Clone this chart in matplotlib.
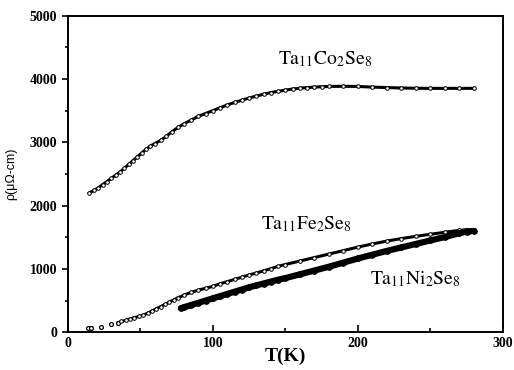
import matplotlib
matplotlib.use("Agg")
import matplotlib.pyplot as plt
from matplotlib.ticker import MultipleLocator

plt.rcParams['mathtext.fontset'] = 'stix'

co_T = [15, 18, 21, 24, 27, 30, 33, 36, 39, 42, 45, 48, 51, 54, 57, 60, 64, 68, 72, 76,
        80, 85, 90, 95, 100, 105, 110, 115, 120, 125, 130, 135, 140, 145, 150, 155, 160,
        165, 170, 175, 180, 190, 200, 210, 220, 230, 240, 250, 260, 270, 280]
co_rho = [2200, 2240, 2280, 2330, 2380, 2430, 2480, 2530, 2590, 2650, 2710, 2770, 2830,
          2890, 2940, 2980, 3030, 3095, 3170, 3235, 3290, 3350, 3410, 3455, 3500, 3545,
          3590, 3630, 3665, 3700, 3730, 3760, 3785, 3805, 3825, 3842, 3855, 3865, 3872,
          3878, 3882, 3885, 3882, 3872, 3865, 3858, 3854, 3852, 3852, 3852, 3852]

fe_T = [14, 16, 23, 30, 35, 37, 40, 43, 46, 49, 52, 55, 58, 61, 64, 67, 70, 73, 76, 80,
        85, 90, 95, 100, 105, 110, 115, 120, 125, 130, 135, 140, 145, 150, 160, 170, 180,
        190, 200, 210, 220, 230, 240, 250, 260, 270, 276, 280]
fe_rho = [60, 65, 85, 125, 150, 170, 190, 210, 230, 250, 270, 300, 335, 370, 405, 440,
          475, 510, 545, 585, 630, 665, 695, 725, 765, 800, 835, 870, 905, 935, 970, 1005,
          1040, 1070, 1125, 1180, 1235, 1290, 1345, 1395, 1440, 1480, 1515, 1548, 1580,
          1610, 1620, 1605]

ni_T = [78, 80, 85, 90, 95, 100, 105, 110, 115, 120, 125, 130, 135, 140, 145, 150, 160,
        170, 180, 190, 200, 210, 220, 230, 240, 250, 260, 270, 275, 280]
ni_rho = [380, 395, 430, 465, 500, 535, 570, 605, 640, 675, 710, 740, 770, 800, 830, 855,
          915, 975, 1035, 1100, 1165, 1225, 1285, 1340, 1395, 1450, 1505, 1565, 1590, 1600]

labels = [r'$\mathrm{Ta_{11}Co_{2}Se_{8}}$', r'$\mathrm{Ta_{11}Fe_{2}Se_{8}}$',
          r'$\mathrm{Ta_{11}Ni_{2}Se_{8}}$']
label_pos = [(145, 4230), (133, 1620), (208, 750)]

fig = plt.figure(figsize=(5.14, 3.70), dpi=100)
ax = fig.add_axes([0.1317, 0.1020, 0.8469, 0.8556])

ax.plot(co_T, co_rho, color='black', lw=2.2, marker='o', ms=2.6, mfc='white', mec='black', mew=0.7)
ax.plot(fe_T[:5], fe_rho[:5], ls='none', marker='o', ms=2.8, mfc='white', mec='black', mew=0.9)
ax.plot(fe_T[4:], fe_rho[4:], color='black', lw=2.2, marker='o', ms=2.6, mfc='white', mec='black', mew=0.7)
ax.plot(ni_T, ni_rho, color='black', lw=4.5, marker='o', ms=4, mfc='black', mec='black', mew=0.8,
        solid_capstyle='round')

for lab, (x, y) in zip(labels, label_pos):
    ax.text(x, y, lab, fontsize=14, color='black', ha='left', va='baseline')

ax.set_xlim(0, 300)
ax.set_ylim(0, 5000)
ax.xaxis.set_major_locator(MultipleLocator(100))
ax.xaxis.set_minor_locator(MultipleLocator(50))
ax.yaxis.set_major_locator(MultipleLocator(1000))
ax.yaxis.set_minor_locator(MultipleLocator(500))
ax.tick_params(axis='x', which='both', direction='in', width=1.2)
ax.tick_params(axis='x', which='major', length=5)
ax.tick_params(axis='x', which='minor', length=3)
ax.tick_params(axis='y', which='both', direction='out', width=1.2)
ax.tick_params(axis='y', which='major', length=4)
ax.tick_params(axis='y', which='minor', length=2)

for lbl in ax.get_xticklabels() + ax.get_yticklabels():
    lbl.set_fontfamily('Liberation Serif')
    lbl.set_fontweight('bold')
    lbl.set_fontsize(10)

for s in ax.spines.values():
    s.set_linewidth(1.4)

ax.set_xlabel('T(K)', fontfamily='Liberation Serif', fontweight='bold', fontsize=14, labelpad=-2)
ax.set_ylabel('ρ(μΩ-cm)', fontfamily='Liberation Sans', fontsize=9, labelpad=9)

fig.savefig('out.png', dpi=100)
